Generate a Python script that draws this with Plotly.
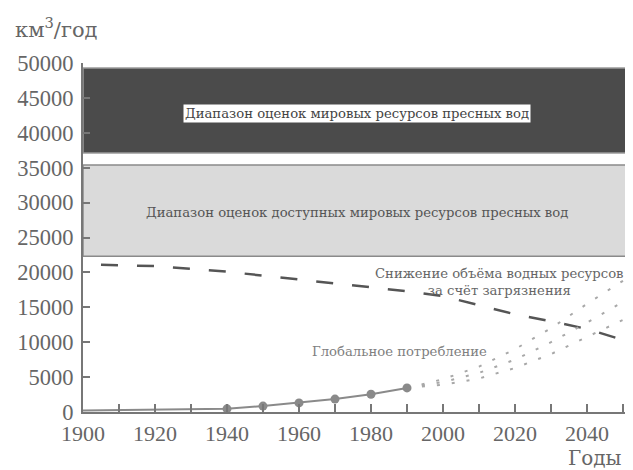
import plotly.graph_objects as go

# ---- data ----
years_hist = [1900, 1910, 1920, 1930, 1940, 1950, 1960, 1970, 1980, 1990]
consumption_hist = [200, 250, 300, 350, 450, 850, 1300, 1850, 2550, 3450]

years_proj = [1990, 2000, 2010, 2020, 2030, 2040, 2050]
proj_high = [3450, 4700, 6500, 9000, 12000, 15500, 18800]
proj_mid = [3450, 4300, 5600, 7500, 10000, 12800, 15800]
proj_low = [3450, 3900, 4800, 6300, 8300, 10700, 13200]

years_pollution = [1905, 1920, 1940, 1960, 1975, 1990, 2000, 2010, 2020, 2030, 2040, 2052]
pollution_decline = [21100, 20900, 20100, 19000, 18200, 17300, 16600, 15300, 14000, 13000, 11900, 10000]

band_years = [1900, 2052.5]
world_resources_range = [37100, 49300]
available_resources_range = [22300, 35400]

x_tickvals = list(range(1900, 2051, 10))
x_ticktext = [str(v) if v % 20 == 0 else "" for v in x_tickvals]
y_tickvals = list(range(0, 50001, 5000))
y_ticktext = [str(v) for v in y_tickvals]

NUMFONT = "Liberation Serif"
CYRFONT = "DejaVu Serif"
GRAY = "#666666"

fig = go.Figure()

# bands
fig.add_shape(type="rect", xref="x", yref="y", layer="below",
              x0=band_years[0], x1=band_years[1],
              y0=world_resources_range[0], y1=world_resources_range[1],
              fillcolor="#4b4b4b", line=dict(color="#9a9a9a", width=1.5))
fig.add_shape(type="rect", xref="x", yref="y", layer="below",
              x0=band_years[0], x1=band_years[1],
              y0=available_resources_range[0], y1=available_resources_range[1],
              fillcolor="#dadada", line=dict(color="#8a8a8a", width=1.5))

# pollution decline (dashed)
fig.add_trace(go.Scatter(x=years_pollution, y=pollution_decline, mode="lines",
                         line=dict(color="#555555", width=2.5, dash="17px,19px"),
                         hoverinfo="skip", showlegend=False, cliponaxis=False))

# projections (dotted)
for proj in (proj_high, proj_mid, proj_low):
    fig.add_trace(go.Scatter(x=years_proj, y=proj, mode="lines",
                             line=dict(color="#a8a8a8", width=2, dash="3px,12px"),
                             hoverinfo="skip", showlegend=False))

# historical consumption line
fig.add_trace(go.Scatter(x=years_hist, y=consumption_hist, mode="lines",
                         line=dict(color="#8a8a8a", width=2),
                         hoverinfo="skip", showlegend=False, cliponaxis=False))
fig.add_trace(go.Scatter(x=years_hist[4:], y=consumption_hist[4:], mode="markers",
                         marker=dict(color="#8a8a8a", size=9),
                         hoverinfo="skip", showlegend=False, cliponaxis=False))

ann = []
ann.append(dict(x=1976, y=42800, xref="x", yref="y",
                text="Диапазон оценок мировых ресурсов пресных вод",
                showarrow=False, bgcolor="white", borderpad=1,
                font=dict(family=CYRFONT, size=13.2, color="#444444")))
ann.append(dict(x=1976, y=28650, xref="x", yref="y",
                text="Диапазон оценок доступных мировых ресурсов пресных вод",
                showarrow=False,
                font=dict(family=CYRFONT, size=13.2, color="#555555")))
ann.append(dict(x=2015.8, y=18600, xref="x", yref="y",
                text="Снижение объёма водных ресурсов<br>за счёт загрязнения",
                showarrow=False, align="center",
                font=dict(family=CYRFONT, size=13.2, color=GRAY)))
ann.append(dict(x=1987.8, y=8600, xref="x", yref="y",
                text="Глобальное потребление",
                showarrow=False,
                font=dict(family=CYRFONT, size=13.2, color="#808080")))
ann.append(dict(x=-0.127, y=1.10, xref="paper", yref="paper",
                xanchor="left", yanchor="middle",
                text="км<sup>3</sup>/год", showarrow=False,
                font=dict(family=CYRFONT, size=21, color=GRAY)))
ann.append(dict(x=0.932, y=-0.133, xref="paper", yref="paper",
                xanchor="center", yanchor="middle",
                text="Годы", showarrow=False,
                font=dict(family=CYRFONT, size=20, color=GRAY)))

# page body has an 8px margin: size the figure so it fits the 633x470 window
fig.update_layout(
    width=625, height=462,
    margin=dict(l=75, r=1, t=55, b=58, autoexpand=False),
    paper_bgcolor="white", plot_bgcolor="white",
    annotations=ann,
    xaxis=dict(range=[1900, 2052.5], tickvals=x_tickvals, ticktext=x_ticktext,
               ticks="inside", ticklen=8, tickwidth=1.5, tickcolor="#777777",
               showline=True, linecolor="#777777", linewidth=2,
               showgrid=False, zeroline=False, automargin=False,
               ticklabelstandoff=1,
               tickfont=dict(family=NUMFONT, size=22, color=GRAY)),
    yaxis=dict(range=[0, 50000], tickvals=y_tickvals, ticktext=y_ticktext,
               ticks="inside", ticklen=7, tickwidth=1.5, tickcolor="#777777",
               showline=True, linecolor="#777777", linewidth=2,
               showgrid=False, zeroline=False, automargin=False,
               ticklabelstandoff=3,
               tickfont=dict(family=NUMFONT, size=22.5, color=GRAY)),
)

fig.write_html("out.html")
